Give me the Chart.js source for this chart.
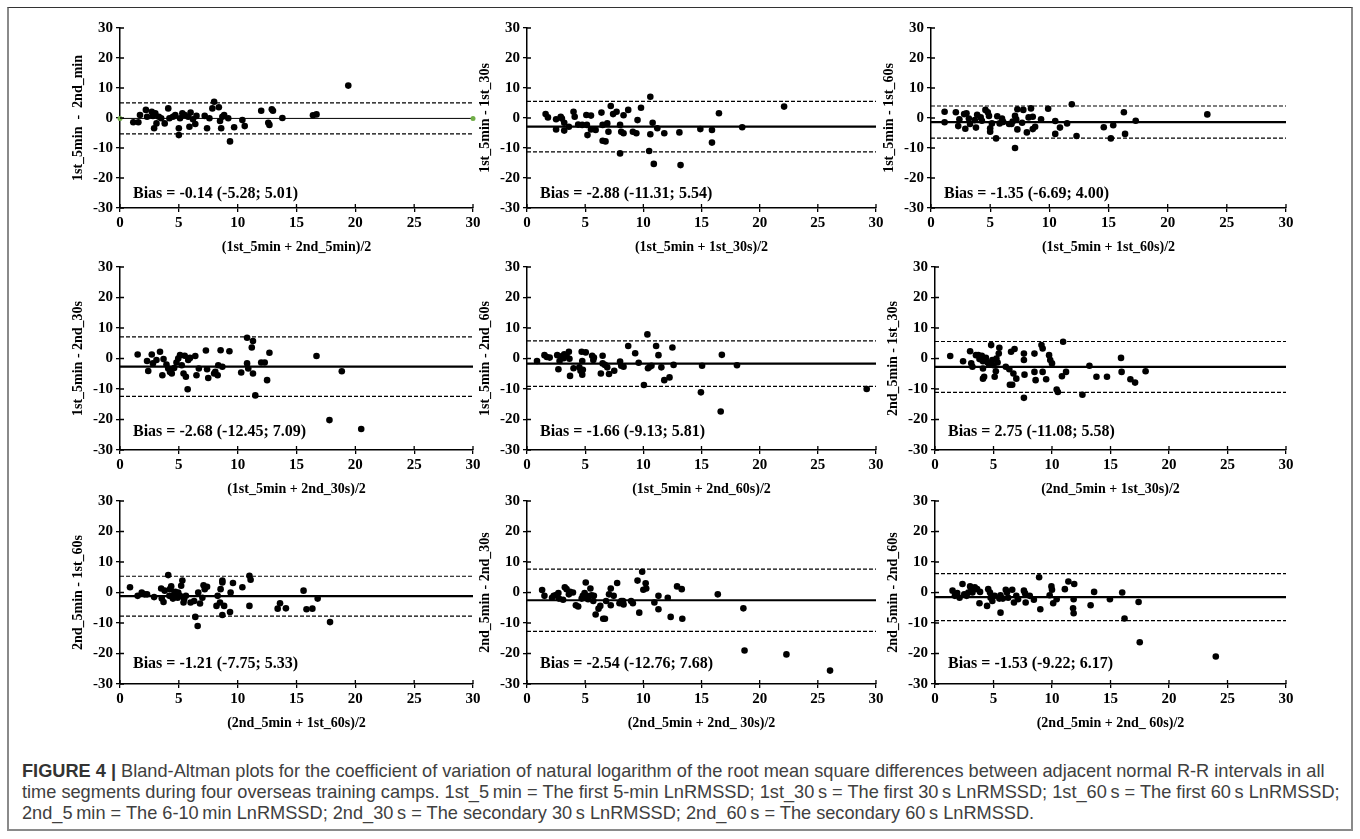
<!DOCTYPE html>
<html>
<head>
<meta charset="utf-8">
<script src="https://cdn.jsdelivr.net/npm/chart.js@4.4.1/dist/chart.umd.min.js"></script>
<style>
  html, body { margin: 0; padding: 0; background: #fff; }
  #fig { position: relative; width: 1360px; height: 839px; overflow: hidden; }
  #frame { position: absolute; left: 7px; top: 7px; width: 1346px; height: 824px;
           border: 2px solid #8a8a8a; border-top: 1px solid #333; box-sizing: border-box; }
  canvas { position: absolute; }
  .bias { position: absolute; font-family: 'Liberation Serif', 'Times New Roman', serif;
          font-weight: bold; font-size: 16px; line-height: 20px; color: #000; white-space: nowrap; }
  #caption { position: absolute; left: 22px; top: 761px; font-family: 'Liberation Sans', Arial, sans-serif;
             font-size: 18.2px; line-height: 21px; color: #404040; white-space: nowrap; }
  #caption b { color: #333; }
</style>
</head>
<body>
<div id="fig">
  <div id="frame"></div>
  <div id="caption">
    <div><b>FIGURE 4 |</b> Bland-Altman plots for the coefficient of variation of natural logarithm of the root mean square differences between adjacent normal R-R intervals in all</div>
    <div>time segments during four overseas training camps. 1st_5&#8201;min = The first 5-min LnRMSSD; 1st_30&#8201;s = The first 30&#8201;s LnRMSSD; 1st_60&#8201;s = The first 60&#8201;s LnRMSSD;</div>
    <div>2nd_5&#8201;min = The 6-10&#8201;min LnRMSSD; 2nd_30&#8201;s = The secondary 30&#8201;s LnRMSSD; 2nd_60&#8201;s = The secondary 60&#8201;s LnRMSSD.</div>
  </div>
</div>
<script>
// axis ticks shared by all nine plots
const xTicks = [0, 5, 10, 15, 20, 25, 30];
const yTicks = [-30, -20, -10, 0, 10, 20, 30];

// mean (x) and difference (y) of every plot
const p1Mean = [1.13,1.56,1.7,2.2,2.3,2.7,2.8,3.0,2.9,3.1,3.3,3.5,3.8,4.1,4.2,4.5,4.7,5.0,5.0,5.1,5.3,5.5,5.8,5.9,6.0,6.2,6.4,6.5,7.2,7.4,7.6,7.85,8.0,8.4,8.5,8.7,8.6,8.85,9.2,9.35,9.7,10.4,10.6,12.0,12.6,12.7,12.9,13.0,13.8,16.4,16.7,19.4];
const p1Diff = [-1.4,-1.4,1.0,2.7,0.4,2.1,0.7,1.6,-3.4,-1.8,0.4,-0.1,-1.8,3.2,-0.1,0.4,1.0,-3.4,-5.7,-0.1,1.6,1.0,0.4,-2.9,1.8,-0.4,-2.0,0.7,0.7,-3.4,-0.1,3.2,5.4,3.6,-1.0,0.4,-3.4,1.0,-0.1,-7.8,-3.1,-0.7,-2.7,2.4,-1.6,-2.3,2.9,2.4,0,0.9,1.2,10.8];

const p2Mean = [1.6,1.8,2.5,2.5,2.9,3.0,3.2,3.2,3.6,4.0,4.1,4.4,4.75,5.1,5.15,5.2,5.5,5.5,5.9,6.4,6.5,6.5,6.75,6.9,7.0,7.2,7.4,7.7,8.0,8.0,8.1,8.3,8.3,8.7,9.1,9.4,9.5,9.8,10.5,10.6,10.6,10.8,10.9,11.2,11.8,13.1,13.2,14.9,15.9,15.9,16.5,18.5,22.1];
const p2Diff = [1.3,0.2,-0.4,-3.8,0.4,-0.2,-4.2,-1.6,-2.9,2.1,0.4,-2.2,-2.3,1.0,-2.3,-5.7,0.8,-3.8,-4.0,1.8,-2.3,-7.6,-7.8,-1.8,-4.6,4.0,1.3,2.1,-2.3,-11.8,-4.6,-5.1,0.9,2.7,-4.6,-5.1,-0.7,3.4,-11.0,7.1,-5.4,-1.6,-15.3,-3.4,-5.1,-4.8,-15.7,-3.7,-4.0,-8.2,1.6,-3.1,3.8];

const p3Mean = [1.15,1.15,2.1,2.3,2.4,2.8,2.9,3.0,3.2,3.3,3.7,3.8,3.9,4.2,4.3,4.6,4.8,4.9,5.0,5.0,5.15,5.5,5.6,5.8,6.0,6.1,6.6,6.8,6.9,7.1,7.1,7.2,7.3,7.3,7.7,7.8,8.1,8.25,8.45,8.6,8.6,8.8,9.3,9.9,10.5,10.5,10.9,11.5,11.9,12.3,14.6,15.2,15.4,16.3,16.4,17.3,23.35];
const p3Diff = [2.1,-1.4,1.9,-2.7,-0.4,1.3,-3.6,1.6,-0.2,-2.0,-0.7,-3.2,1.1,0.2,-0.9,2.7,1.9,0.7,-3.4,-4.6,-1.8,-6.8,0.6,-1.8,-0.2,-1.3,-2.0,-2.0,-1.2,0.7,-10.0,-0.4,2.9,-3.8,-1.6,2.7,-4.8,0.2,3.2,0.4,-3.7,-2.9,-0.4,3.1,-1.0,-5.3,-3.2,-1.8,4.6,-6.0,-3.1,-6.8,-2.4,1.9,-5.3,-0.9,1.2];

const p4Mean = [1.5,2.3,2.4,2.7,2.8,3.1,3.4,3.6,3.7,3.95,4.1,4.25,4.4,4.6,4.8,4.95,5.1,5.25,5.4,5.5,5.6,5.75,5.8,5.95,6.4,6.5,6.7,7.3,7.4,7.5,8.0,8.1,8.3,8.35,8.55,8.7,9.3,10.3,10.8,10.8,10.9,11.2,11.3,11.3,11.5,12.0,12.3,12.5,12.7,16.7,17.8,18.85,20.5];
const p4Diff = [1.3,-0.8,-4.1,1.3,-1.6,-0.5,2.2,-5.5,-0.2,-2.0,-3.3,-4.4,-4.9,-3.1,-1.3,0,1.1,-2.2,-4.9,0.9,-6.0,-10.1,-0.5,0.2,0.8,-5.5,-3.3,2.6,-3.5,-6.4,-4.9,-4.4,-5.5,-2.2,2.7,-2.7,2.4,-4.6,6.8,-1.6,-3.3,3.6,5.7,-4.9,-12.1,-1.3,-1.3,-7.1,1.9,0.8,-20.2,-4.2,-23.1];

const p5Mean = [0.86,1.5,1.7,1.95,2.6,2.7,2.8,2.95,3.15,3.2,3.4,3.6,3.65,3.7,4.0,4.5,4.6,4.7,4.75,4.75,4.8,5.05,5.6,5.7,5.75,6.35,6.5,6.5,6.7,6.9,7.05,7.5,8.0,8.1,8.3,8.7,9.3,9.6,10.05,10.35,10.4,10.55,10.7,11.1,11.3,11.55,11.8,12.25,12.5,12.6,15.05,14.95,16.65,16.75,18.05,29.2];
const p5Diff = [-0.8,1.1,0.5,0.3,1.1,-3.5,-0.8,0.7,0.1,1.4,0.9,2.2,-0.1,-5.7,-3.2,-2.9,-4.0,2.2,-0.8,-5.3,-3.7,2.0,0.9,-0.5,0.3,-4.9,0.9,-1.6,-2.1,-2.9,-5.1,-4.0,-1.0,-2.4,-2.7,4.1,1.7,-1.4,-8.7,7.9,-3.2,-2.7,-2.4,4.1,1.1,-2.9,-7.1,-6.2,3.6,-2.1,-2.4,-11.1,-17.4,1.2,-2.2,-10.0];

const p6Mean = [1.3,2.4,3.0,3.1,3.2,3.5,3.7,3.8,4.0,4.1,4.1,4.1,4.2,4.35,4.5,4.6,4.8,4.9,5.0,5.1,5.2,5.25,5.35,5.45,5.5,6.05,6.35,6.4,6.6,6.5,6.7,6.8,6.95,7.6,7.6,7.6,7.65,8.5,8.5,8.6,9.1,9.2,9.2,9.5,9.75,9.85,10.0,10.4,10.5,10.85,10.95,11.2,12.6,13.2,13.8,14.7,15.9,15.95,16.7,17.1,18.0];
const p6Diff = [0.8,-0.9,2.4,-1.6,-2.7,1.1,1.1,-0.2,0.9,-0.9,-3.3,-6.6,-6.0,0.2,-1.3,-1.6,4.4,-0.5,-2.2,-6.0,-4.2,0,-1.3,1.6,3.5,-2.7,-3.5,-8.6,-8.6,2.2,-4.9,3.1,-6.6,-12.9,1.6,-0.5,-5.3,1.6,-4.4,-7.1,4.4,3.3,-4.4,-6.8,1.1,-0.5,-1.6,-10.2,-11.0,-5.8,5.5,-4.4,-11.9,-2.4,-6.0,-6.0,0.2,-4.4,-6.8,-7.9,-4.2];

const p7Mean = [0.85,1.5,1.85,2.1,2.3,2.9,3.5,3.55,3.7,3.8,4.1,4.2,4.25,4.35,4.5,4.6,4.7,4.9,4.95,5.1,5.2,5.3,5.4,5.45,5.6,6.0,6.3,6.4,6.6,6.65,6.8,7.0,7.1,7.2,7.4,8.3,8.2,8.5,8.55,8.7,8.7,8.7,8.85,9.35,9.4,9.6,10.4,11.0,11.1,11.0,13.4,13.6,14.1,15.6,15.85,16.35,16.8,17.85];
const p7Diff = [1.7,-1.1,0,-0.6,-0.6,-1.5,1.3,-2.0,-3.1,0.6,5.7,-1.1,1.1,2.0,-2.0,-0.6,0.2,-1.7,0,-1.1,2.2,3.9,-3.3,-2.2,-1.1,-3.3,-2.8,-8.0,-11.0,0,-3.6,-1.7,2.4,1.1,1.9,-1.1,-4.4,-3.3,1.1,3.9,3.3,-7.4,-4.4,-6.4,0,3.1,1.7,5.5,4.2,-4.4,-5.3,-3.5,-5.2,0.6,-5.5,-5.3,-2.0,-9.7];

const p8Mean = [1.3,1.5,2.15,2.3,2.5,2.7,2.75,3.1,3.25,3.4,3.6,3.7,3.95,4.2,4.4,4.7,4.8,4.9,4.95,5.05,5.15,5.25,5.45,5.55,5.7,5.75,5.9,6.15,6.3,6.55,6.7,6.8,7.05,7.2,7.2,7.45,7.75,7.95,8.1,8.25,8.3,8.95,9.1,9.5,9.65,9.9,10.0,10.2,10.25,10.95,11.3,11.3,12.1,12.35,12.9,13.3,13.35,16.4,18.6,18.7,22.3,26.05];
const p8Diff = [0.8,-1.1,-1.7,-1.1,-0.8,-0.2,-2.0,-2.4,1.7,1.1,-0.6,0.2,0,-4.2,-4.6,-2.0,-1.1,-1.7,-0.2,3.3,-1.1,-2.2,1.3,-0.9,-2.8,-1.1,-7.2,-5.3,-4.4,-8.6,-8.6,-2.8,-0.6,1.3,-4.2,-1.1,3.1,-3.5,-2.8,-2.8,-3.9,-2.8,-3.5,3.9,-6.6,6.8,0.9,3.0,1.3,-3.3,-1.1,-5.5,-1.7,-8.0,2.0,1.1,-8.6,-0.6,-5.2,-19.0,-20.3,-25.6];

const p9Mean = [1.5,1.7,1.9,2.1,2.35,2.5,2.7,2.85,3.0,3.1,3.2,3.4,3.6,3.8,3.85,4.45,4.55,4.7,4.75,4.9,5.1,5.5,5.6,5.6,5.8,6.05,6.15,6.25,6.6,6.75,6.95,7.1,7.6,7.7,7.75,8.1,8.45,8.9,9.0,9.8,9.95,10.0,10.1,10.4,11.1,11.4,11.9,11.85,11.8,11.85,13.3,13.6,14.95,16.0,16.2,17.4,17.5,24.0];
const p9Diff = [0.6,-1.1,-0.2,-1.7,2.8,-0.6,-1.1,0,2.0,1.3,0,1.7,1.1,-3.5,0.2,-4.4,1.1,0,-1.7,-2.8,-1.1,-2.0,-6.6,-0.9,-2.0,0.9,0,-1.7,0.9,-3.3,-1.1,-2.2,0.6,-0.3,-3.3,-1.1,-2.4,5.0,-5.5,-0.9,2.0,0.9,-3.5,-2.2,1.1,3.6,2.8,-2.2,-5.2,-6.8,-4.2,0.2,-2.2,0,-8.5,-3.1,-16.3,-21.0];

// bias line and limits of agreement (panel 6 line is drawn at -2.75 in the figure)
const biasValues = [-0.14, -2.88, -1.35, -2.68, -1.66, -2.75, -1.21, -2.54, -1.53];
const loaLower = [-5.28, -11.31, -6.69, -12.45, -9.13, -11.08, -7.75, -12.76, -9.22];
const loaUpper = [5.01, 5.54, 4.00, 7.09, 5.81, 5.58, 5.33, 7.68, 6.17];
const biasLabels = ['Bias = -0.14 (-5.28; 5.01)', 'Bias = -2.88 (-11.31; 5.54)', 'Bias = -1.35 (-6.69; 4.00)',
                    'Bias = -2.68 (-12.45; 7.09)', 'Bias = -1.66 (-9.13; 5.81)', 'Bias = 2.75 (-11.08; 5.58)',
                    'Bias = -1.21 (-7.75; 5.33)', 'Bias = -2.54 (-12.76; 7.68)', 'Bias = -1.53 (-9.22; 6.17)'];
const xTitles = ['(1st_5min + 2nd_5min)/2', '(1st_5min + 1st_30s)/2', '(1st_5min + 1st_60s)/2',
                 '(1st_5min + 2nd_30s)/2', '(1st_5min + 2nd_60s)/2', '(2nd_5min + 1st_30s)/2',
                 '(2nd_5min + 1st_60s)/2', '(2nd_5min + 2nd_ 30s)/2', '(2nd_5min + 2nd_ 60s)/2'];
const yTitles = ['1st_5min  -  2nd_min', '1st_5min - 1st_30s', '1st_5min - 1st_60s',
                 '1st_5min - 2nd_30s', '1st_5min - 2nd_60s', '2nd_5min - 1st_30s',
                 '2nd_5min - 1st_60s', '2nd_5min - 2nd_30s', '2nd_5min - 2nd_60s'];

const means = [p1Mean, p2Mean, p3Mean, p4Mean, p5Mean, p6Mean, p7Mean, p8Mean, p9Mean];
const diffs = [p1Diff, p2Diff, p3Diff, p4Diff, p5Diff, p6Diff, p7Diff, p8Diff, p9Diff];

// page layout (plot-area edges in px)
const areaLeft = [[120, 527, 931], [120, 527, 935], [120, 527, 935]];
const areaRight = [473, 876, 1286];
const areaTop = [28, 267, 501];
const areaBottom = [208, 450, 684];
const biasMid = [193, 431, 663];
const PAD_L = 62, PAD_T = 14, PAD_R = 16, PAD_B = 48;

const serif = "'Liberation Serif', 'Times New Roman', serif";
const tickFont = { family: serif, size: 15, weight: 'bold' };
const titleFont = { family: serif, size: 14, weight: 'bold' };

// short tick marks pointing into the plot, so the ticks cross the axes
const innerTicks = {
  id: 'innerTicks',
  afterDatasetsDraw(chart) {
    const { ctx, chartArea, scales } = chart;
    ctx.save();
    ctx.strokeStyle = '#000';
    ctx.lineWidth = 1.3;
    ctx.beginPath();
    scales.x.ticks.forEach(t => {
      const px = scales.x.getPixelForValue(t.value);
      ctx.moveTo(px, chartArea.bottom);
      ctx.lineTo(px, chartArea.bottom - 4);
    });
    scales.y.ticks.forEach(t => {
      const py = scales.y.getPixelForValue(t.value);
      ctx.moveTo(chartArea.left, py);
      ctx.lineTo(chartArea.left + 4, py);
    });
    ctx.stroke();
    ctx.restore();
  }
};

const fig = document.getElementById('fig');

for (let i = 0; i < 9; i++) {
  const r = Math.floor(i / 3), c = i % 3;
  const L = areaLeft[r][c], R = areaRight[c], T = areaTop[r], B = areaBottom[r];

  const cv = document.createElement('canvas');
  cv.width = R - L + PAD_L + PAD_R;
  cv.height = B - T + PAD_T + PAD_B;
  cv.style.left = (L - PAD_L) + 'px';
  cv.style.top = (T - PAD_T) + 'px';
  fig.appendChild(cv);

  const bias = document.createElement('div');
  bias.className = 'bias';
  bias.textContent = biasLabels[i];
  bias.style.left = (L + 13) + 'px';
  bias.style.top = (biasMid[r] - 10) + 'px';
  fig.appendChild(bias);

  const first = i === 0;
  const hline = v => [{ x: xTicks[0], y: v }, { x: xTicks[xTicks.length - 1], y: v }];

  new Chart(cv, {
    type: 'scatter',
    data: {
      datasets: [
        {
          data: means[i].map((m, k) => ({ x: m, y: diffs[i][k] })),
          pointRadius: 3.3,
          pointBackgroundColor: '#000',
          pointBorderWidth: 0
        },
        {
          data: hline(biasValues[i]),
          showLine: true,
          borderColor: '#000',
          borderWidth: first ? 1 : 2.2,
          pointRadius: first ? 2.5 : 0,
          pointBackgroundColor: '#70ad47',
          pointBorderWidth: 0,
          clip: false
        },
        {
          data: hline(loaUpper[i]),
          showLine: true,
          borderColor: '#000',
          borderWidth: 1.2,
          borderDash: [4, 2],
          pointRadius: 0
        },
        {
          data: hline(loaLower[i]),
          showLine: true,
          borderColor: '#000',
          borderWidth: 1.2,
          borderDash: [4, 2],
          pointRadius: 0
        }
      ]
    },
    options: {
      responsive: false,
      animation: false,
      events: [],
      layout: { padding: { top: PAD_T, right: PAD_R, left: 0, bottom: 0 } },
      plugins: { legend: { display: false }, tooltip: { enabled: false } },
      scales: {
        x: {
          type: 'linear',
          min: xTicks[0],
          max: xTicks[xTicks.length - 1],
          afterBuildTicks: s => { s.ticks = xTicks.map(v => ({ value: v })); },
          afterFit: s => { s.height = PAD_B; },
          ticks: { font: tickFont, color: '#000', padding: 2, maxRotation: 0 },
          grid: { drawOnChartArea: false, tickLength: 4, color: '#000', lineWidth: 1.3 },
          border: { color: '#000', width: 1.5 },
          title: { display: true, text: xTitles[i], color: '#000', font: titleFont, padding: { top: 5, bottom: 0 } }
        },
        y: {
          type: 'linear',
          min: yTicks[0],
          max: yTicks[yTicks.length - 1],
          afterBuildTicks: s => { s.ticks = yTicks.map(v => ({ value: v })); },
          afterFit: s => { s.width = PAD_L; },
          ticks: { font: tickFont, color: '#000', padding: 3 },
          grid: { drawOnChartArea: false, tickLength: 4, color: '#000', lineWidth: 1.3 },
          border: { color: '#000', width: 1.5 },
          title: { display: true, text: yTitles[i], color: '#000', font: titleFont, padding: { top: 12, bottom: 0 } }
        }
      }
    },
    plugins: [innerTicks]
  });
}
</script>
</body>
</html>
